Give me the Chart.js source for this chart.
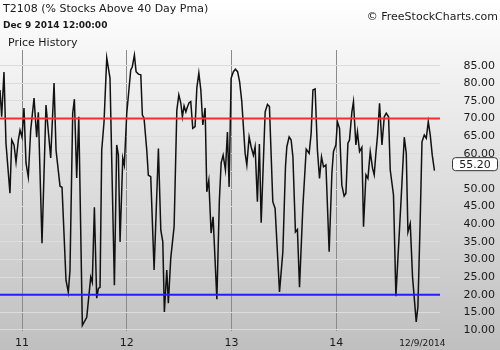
<!DOCTYPE html>
<html>
<head>
<meta charset="utf-8">
<script src="https://cdn.jsdelivr.net/npm/chart.js@4"></script>
<style>
html, body { margin: 0; padding: 0; }
#wrap { width: 500px; height: 350px; }
</style>
</head>
<body>
<div id="wrap"><canvas id="myChart"></canvas></div>
<script>
// decimal years and T2108 readings
var dates = [2010.790, 2010.806, 2010.828, 2010.847, 2010.885, 2010.902, 2010.924, 2010.943, 2010.965, 2010.981,
  2011.000, 2011.019, 2011.038, 2011.060, 2011.083, 2011.115, 2011.140, 2011.156, 2011.191, 2011.229,
  2011.274, 2011.306, 2011.325, 2011.363, 2011.382, 2011.420, 2011.442, 2011.458, 2011.484, 2011.500,
  2011.522, 2011.542, 2011.576, 2011.618, 2011.656, 2011.671, 2011.691, 2011.713, 2011.729, 2011.745,
  2011.761, 2011.783, 2011.809, 2011.840, 2011.882, 2011.904, 2011.920, 2011.936, 2011.962, 2011.977,
  2012.000, 2012.038, 2012.053, 2012.073, 2012.089, 2012.111, 2012.134, 2012.149, 2012.165, 2012.191,
  2012.206, 2012.229, 2012.261, 2012.302, 2012.325, 2012.344, 2012.359, 2012.382, 2012.397, 2012.420,
  2012.452, 2012.478, 2012.497, 2012.516, 2012.531, 2012.547, 2012.564, 2012.579, 2012.595, 2012.611,
  2012.630, 2012.652, 2012.669, 2012.688, 2012.707, 2012.726, 2012.748, 2012.764, 2012.783, 2012.805,
  2012.824, 2012.860, 2012.884, 2012.901, 2012.920, 2012.942, 2012.961, 2012.977, 2012.996, 2013.018,
  2013.037, 2013.058, 2013.077, 2013.098, 2013.130, 2013.146, 2013.168, 2013.187, 2013.209, 2013.225,
  2013.247, 2013.266, 2013.283, 2013.321, 2013.343, 2013.362, 2013.394, 2013.416, 2013.458, 2013.490,
  2013.515, 2013.528, 2013.550, 2013.569, 2013.586, 2013.610, 2013.629, 2013.649, 2013.681, 2013.713,
  2013.741, 2013.760, 2013.777, 2013.798, 2013.820, 2013.840, 2013.859, 2013.878, 2013.901, 2013.932,
  2013.958, 2013.973, 2013.996, 2014.011, 2014.031, 2014.053, 2014.075, 2014.092, 2014.111, 2014.126,
  2014.149, 2014.164, 2014.187, 2014.202, 2014.222, 2014.244, 2014.260, 2014.283, 2014.302, 2014.324,
  2014.346, 2014.362, 2014.378, 2014.394, 2014.413, 2014.436, 2014.458, 2014.477, 2014.499, 2014.515,
  2014.546, 2014.569, 2014.620, 2014.649, 2014.668, 2014.684, 2014.706, 2014.728, 2014.763, 2014.779,
  2014.801, 2014.818, 2014.840, 2014.859, 2014.878, 2014.897, 2014.916, 2014.937];
var values = [78.1, 70.5, 83.2, 63, 48.8, 63.9, 62.5, 57.6, 63.9, 66.7,
  64.7, 73, 57.4, 53.4, 66.7, 75.8, 64.7, 71.8, 34.6, 73.8,
  58.8, 80.1, 61, 50.8, 50.5, 24.1, 20.7, 26.9, 71.5, 75.5,
  53.1, 70.5, 11.3, 13.6, 25, 23.5, 44.8, 19.0, 21.8, 22.1,
  61, 69, 87.2, 81.5, 22.7, 62.5, 59.6, 35.0, 58.8, 56.8,
  71.5, 83.8, 84.7, 88.0, 83.3, 82.6, 82.4, 71, 70.1, 61,
  53.9, 53.5, 27, 61.5, 38.3, 35, 15.1, 27, 17.6, 30.4,
  39.3, 72.4, 76.7, 74.4, 70.5, 73.6, 71.9, 73.3, 74.5, 74.8,
  67.2, 67.7, 78.7, 82.9, 78.1, 68.2, 73, 49.2, 52.5, 37.5,
  42.1, 18.7, 46.8, 57.4, 59.6, 55.4, 66.2, 50.6, 81.4, 83.3,
  84, 83.3, 80.5, 74.8, 60.1, 56.8, 64.8, 62, 59.6, 62,
  46.4, 62.8, 40.4, 71.9, 74, 73.4, 46.4, 44.5, 20.8, 32.2,
  56.3, 62, 64.8, 63.9, 59.1, 37.8, 38.5, 22.1, 45, 61.3,
  60.1, 65.8, 78.1, 78.4, 61, 53, 59.1, 56.3, 56.8, 32.2,
  54.4, 60.6, 62.5, 69.1, 67.2, 51.1, 48, 48.8, 63, 63.9,
  71.9, 74.8, 62.5, 66.2, 60.6, 61.8, 39.3, 54, 53, 60.6,
  55.9, 54, 60.1, 65.3, 74.3, 62.5, 70.5, 71.5, 70.5, 55.4,
  48.3, 19.6, 47.8, 64.7, 60.1, 37.8, 40.2, 25, 12.3, 16.5,
  41.2, 63.4, 65.3, 64.4, 69.1, 65.3, 59.6, 55.2];
var yearTicks = [2011, 2012, 2013, 2014];
var yTicks = [10, 15, 20, 25, 30, 35, 40, 45, 50, 55, 60, 65, 70, 75, 80, 85];
var upperLevel = 70;
var lowerLevel = 20;
var lastDateLabel = "12/9/2014";
var xMin = 2010.79, xMax = 2014.99;
var yMin = 9.7, yMax = 89.45;

var points = dates.map(function (d, i) { return { x: d, y: values[i] }; });
var FONT = "'DejaVu Sans', Verdana, sans-serif";

var decorations = {
  id: "decorations",
  beforeDraw: function (chart) {
    var ctx = chart.ctx;
    var g = ctx.createLinearGradient(0, 0, 0, chart.height);
    g.addColorStop(0, "#ffffff");
    g.addColorStop(1, "#bfbfbf");
    ctx.save();
    ctx.fillStyle = g;
    ctx.fillRect(0, 0, chart.width, chart.height);
    ctx.restore();
  },
  afterDraw: function (chart) {
    var ctx = chart.ctx;
    var xs = chart.scales.x, ys = chart.scales.y;
    ctx.save();
    ctx.fillStyle = "#1a1a1a";
    ctx.textBaseline = "middle";
    ctx.textAlign = "left";
    ctx.font = "11px " + FONT;
    ctx.fillText("T2108 (% Stocks Above 40 Day Pma)", 3, 9);
    ctx.font = "bold 9px " + FONT;
    ctx.fillText("Dec 9 2014 12:00:00", 3, 25.5);
    ctx.font = "11px " + FONT;
    ctx.fillText("Price History", 8, 43);
    ctx.textAlign = "right";
    ctx.fillText("\u00A9 FreeStockCharts.com", 498, 17);

    // last date label under the axis
    ctx.font = "9px " + FONT;
    ctx.fillText(lastDateLabel, xs.getPixelForValue(dates[dates.length - 1]) + 11, 344);

    // current value box
    var last = values[values.length - 1];
    var by = ys.getPixelForValue(last) - 7;
    var bx = 452, bw = 45, bh = 13;
    ctx.beginPath();
    ctx.roundRect(bx + 0.5, by - bh / 2 + 0.5, bw, bh, 3);
    ctx.fillStyle = "#ffffff";
    ctx.fill();
    ctx.strokeStyle = "#333333";
    ctx.lineWidth = 1;
    ctx.stroke();
    ctx.fillStyle = "#1a1a1a";
    ctx.textAlign = "center";
    ctx.font = "11px " + FONT;
    ctx.fillText(last.toFixed(2), bx + bw / 2 + 0.5, by + 1);
    ctx.restore();
  }
};

new Chart("myChart", {
  type: "line",
  data: {
    datasets: [{
      data: [{ x: xMin, y: upperLevel }, { x: xMax, y: upperLevel }],
      borderColor: "#ff2a2a",
      borderWidth: 2,
      pointRadius: 0
    }, {
      data: [{ x: xMin, y: lowerLevel }, { x: xMax, y: lowerLevel }],
      borderColor: "#1f1fff",
      borderWidth: 2,
      pointRadius: 0
    }, {
      data: points,
      borderColor: "#111111",
      borderWidth: 1.5,
      pointRadius: 0,
      tension: 0
    }]
  },
  options: {
    responsive: true,
    maintainAspectRatio: false,
    animation: false,
    layout: { padding: { top: 50, right: 5, left: 0, bottom: 0 } },
    plugins: { legend: { display: false }, tooltip: { enabled: false } },
    scales: {
      x: {
        type: "linear",
        min: xMin,
        max: xMax,
        afterBuildTicks: function (scale) {
          scale.ticks = yearTicks.map(function (v) { return { value: v }; });
        },
        afterFit: function (scale) { scale.height = 19; },
        ticks: {
          autoSkip: false,
          maxRotation: 0,
          padding: 6,
          color: "#1a1a1a",
          font: { family: FONT, size: 11 },
          callback: function (v) { return String(v).slice(2); }
        },
        grid: { color: "#8a8a8a", lineWidth: 1, drawTicks: false },
        border: { display: false }
      },
      y: {
        position: "right",
        min: yMin,
        max: yMax,
        afterBuildTicks: function (scale) {
          scale.ticks = yTicks.map(function (v) { return { value: v }; });
        },
        afterFit: function (scale) { scale.width = 55; },
        ticks: {
          autoSkip: false,
          crossAlign: "far",
          color: "#1a1a1a",
          font: { family: FONT, size: 11 },
          callback: function (v) { return v === 55 ? "" : v.toFixed(2); }
        },
        grid: { color: "#dcdcdc", lineWidth: 1, drawTicks: false },
        border: { display: false }
      }
    }
  },
  plugins: [decorations]
});
</script>
</body>
</html>
